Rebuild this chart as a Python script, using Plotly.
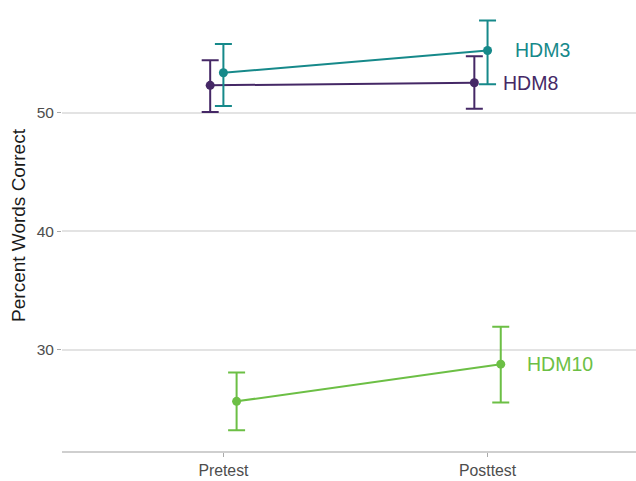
import plotly.graph_objects as go

categories = ["Pretest", "Posttest"]
groups = ["HDM8", "HDM3", "HDM10"]
means = {
    "HDM8": [52.33, 52.55],
    "HDM3": [53.39, 55.27],
    "HDM10": [25.66, 28.80],
}
upper = {
    "HDM8": [54.45, 54.79],
    "HDM3": [55.82, 57.80],
    "HDM10": [28.09, 31.96],
}
lower = {
    "HDM8": [50.08, 50.36],
    "HDM3": [50.59, 52.41],
    "HDM10": [23.22, 25.57],
}
colors = {"HDM8": "#452866", "HDM3": "#16898a", "HDM10": "#6cbf45"}
dodge = {"HDM8": -0.05, "HDM3": 0.0, "HDM10": 0.05}
label_shift = {"HDM8": 27, "HDM3": 25, "HDM10": 24}

fig = go.Figure()
cat_pos = [1, 2]
for g in groups:
    xs = [p + dodge[g] for p in cat_pos]
    m = means[g]
    fig.add_trace(go.Scatter(
        x=xs, y=m, mode="lines+markers",
        line=dict(color=colors[g], width=2),
        marker=dict(color=colors[g], size=9),
        error_y=dict(type="data", symmetric=False,
                     array=[u - v for u, v in zip(upper[g], m)],
                     arrayminus=[v - l for v, l in zip(m, lower[g])],
                     color=colors[g], thickness=2, width=8.5),
        showlegend=False, cliponaxis=False, hoverinfo="skip",
    ))
    fig.add_annotation(x=xs[-1], y=m[-1], text=g, showarrow=False,
                       xanchor="left", yanchor="middle", xshift=label_shift[g],
                       font=dict(size=19.5, color=colors[g], family="Liberation Sans"))

fig.update_layout(
    width=636, height=481,
    margin=dict(l=62, r=0, t=0, b=30),
    paper_bgcolor="white", plot_bgcolor="white",
    font=dict(family="Liberation Sans"),
)
fig.update_xaxes(
    range=[0.389, 2.562], tickvals=cat_pos, ticktext=categories,
    showgrid=False, zeroline=False,
    showline=True, linecolor="#cfcfcf", linewidth=1.5,
    ticks="outside", ticklen=4, tickcolor="#aaaaaa", tickwidth=1,
    tickfont=dict(size=15.8, color="#4d4d4d"),
)
fig.update_yaxes(
    range=[21.47, 59.53], tickvals=[30, 40, 50],
    showgrid=True, gridcolor="#e3e3e3", gridwidth=1.5, zeroline=False,
    showline=False,
    ticks="outside", ticklen=4, tickcolor="#aaaaaa", tickwidth=1,
    tickfont=dict(size=15.5, color="#4d4d4d"),
    title=dict(text="Percent Words Correct", font=dict(size=19, color="#1a1a1a"), standoff=6),
)
fig.write_html("out.html", config={"displayModeBar": False},
               post_script="document.body.style.margin='0';document.body.style.overflow='hidden';")
